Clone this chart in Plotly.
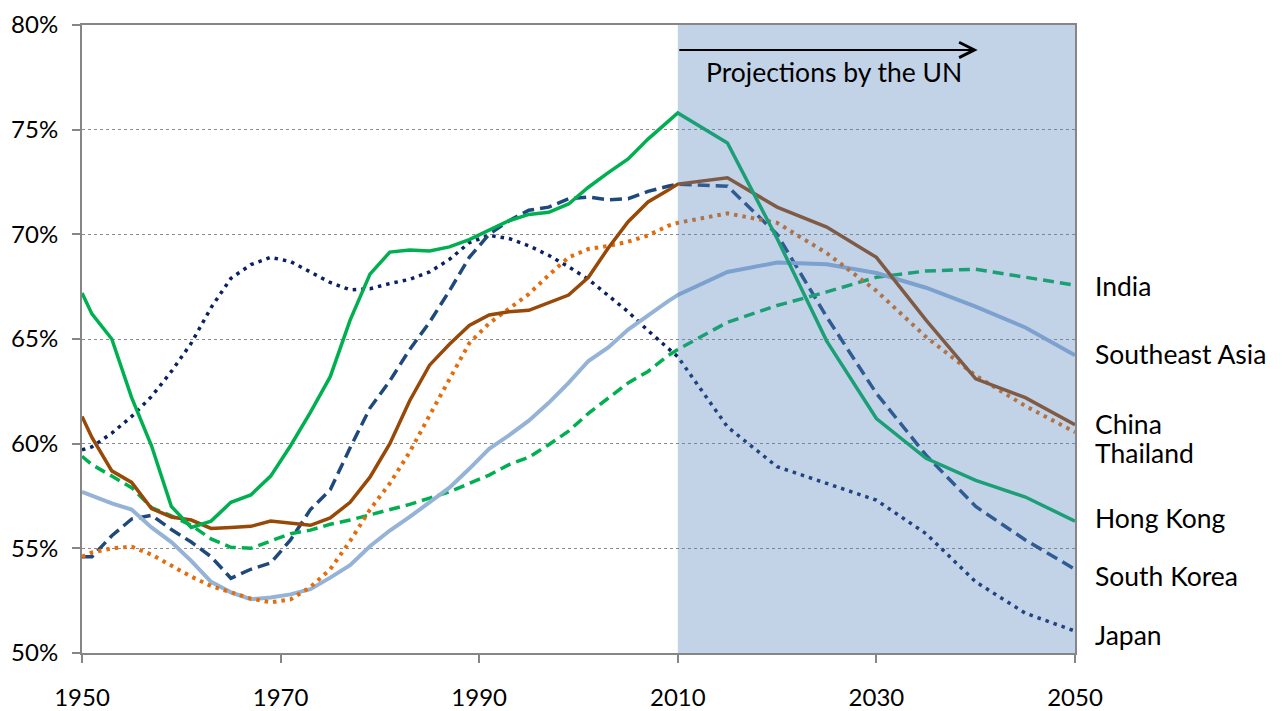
import plotly.graph_objects as go

# ---------------- data (percent of population aged 15-64) ----------------
YEARS = [1950, 1951, 1953, 1955, 1957, 1959, 1961, 1963, 1965, 1967,
         1969, 1971, 1973, 1975, 1977, 1979, 1981, 1983, 1985, 1987,
         1989, 1991, 1993, 1995, 1997, 1999, 2001, 2003, 2005, 2007,
         2009, 2010, 2015, 2020, 2025, 2030, 2035, 2040, 2045, 2050]

JAPAN = [59.7, 59.85, 60.5, 61.3, 62.25, 63.45, 64.8, 66.5, 67.9, 68.55,
         68.9, 68.7, 68.2, 67.7, 67.35, 67.4, 67.65, 67.85, 68.2, 68.8,
         69.6, 69.95, 69.8, 69.45, 69.0, 68.45, 67.85, 67.1, 66.3, 65.4,
         64.55, 64.15, 60.8, 58.9, 58.1, 57.3, 55.7, 53.4, 51.9, 51.05]

SOUTH_KOREA = [54.6, 54.6, 55.6, 56.4, 56.58, 55.9, 55.3, 54.6, 53.57, 54.0,
               54.3, 55.4, 56.85, 57.8, 59.8, 61.7, 63.0, 64.5, 65.8, 67.3,
               68.9, 70.0, 70.65, 71.15, 71.3, 71.7, 71.78, 71.65, 71.7, 72.05,
               72.3, 72.4, 72.3, 70.0, 66.05, 62.4, 59.45, 57.0, 55.4, 54.0]

HONG_KONG = [67.2, 66.2, 65.0, 62.2, 59.9, 57.0, 56.0, 56.3, 57.2, 57.55,
             58.45, 59.9, 61.5, 63.2, 65.9, 68.1, 69.15, 69.25, 69.2, 69.4,
             69.75, 70.2, 70.65, 70.95, 71.05, 71.45, 72.25, 72.95, 73.6, 74.55,
             75.4, 75.8, 74.36, 69.8, 64.9, 61.2, 59.3, 58.25, 57.45, 56.3]

CHINA = [61.3, 60.3, 58.7, 58.15, 56.9, 56.5, 56.35, 55.95, 56.0, 56.05,
         56.3, 56.2, 56.1, 56.45, 57.2, 58.4, 60.0, 62.05, 63.75, 64.75,
         65.65, 66.15, 66.3, 66.37, 66.75, 67.1, 67.95, 69.35, 70.6, 71.55,
         72.1, 72.4, 72.7, 71.3, 70.35, 68.9, 65.9, 63.1, 62.2, 60.9]

THAILAND = [54.6, 54.8, 55.0, 55.08, 54.7, 54.15, 53.65, 53.2, 52.9, 52.6,
            52.42, 52.56, 53.15, 54.0, 55.35, 56.85, 58.1, 59.6, 61.35, 63.1,
            64.8, 65.75, 66.45, 67.15, 68.05, 68.9, 69.3, 69.45, 69.65, 69.95,
            70.4, 70.55, 71.0, 70.55, 69.1, 67.3, 65.1, 63.25, 61.8, 60.55]

SOUTHEAST_ASIA = [57.7, 57.5, 57.15, 56.85, 56.0, 55.3, 54.4, 53.4, 52.9, 52.57,
                  52.65, 52.8, 53.05, 53.6, 54.2, 55.1, 55.85, 56.5, 57.2, 57.9,
                  58.8, 59.75, 60.4, 61.1, 61.95, 62.9, 63.95, 64.6, 65.45, 66.15,
                  66.8, 67.1, 68.2, 68.65, 68.57, 68.15, 67.45, 66.55, 65.55, 64.22]

INDIA = [59.4, 59.0, 58.45, 57.9, 56.95, 56.55, 56.1, 55.45, 55.05, 55.0,
         55.35, 55.7, 55.87, 56.15, 56.35, 56.6, 56.85, 57.1, 57.4, 57.7,
         58.1, 58.5, 59.0, 59.35, 59.95, 60.6, 61.45, 62.2, 62.9, 63.45,
         64.2, 64.5, 65.8, 66.6, 67.25, 67.95, 68.25, 68.33, 67.96, 67.57]

SERIES_NAMES = ["Japan", "South Korea", "India", "Southeast Asia",
                "Thailand", "China", "Hong Kong"]
SERIES_VALUES = [JAPAN, SOUTH_KOREA, INDIA, SOUTHEAST_ASIA,
                 THAILAND, CHINA, HONG_KONG]

X_TICKS = [1950, 1970, 1990, 2010, 2030, 2050]
Y_TICKS = [50, 55, 60, 65, 70, 75, 80]
Y_TICK_TEXT = ["50%", "55%", "60%", "65%", "70%", "75%", "80%"]
PROJ_START, PROJ_END = 2010, 2050
ARROW_END = 2040.2
ARROW_Y = 78.81
PROJ_TEXT = "Projections by the UN"

# ---------------- styles ----------------
STYLES = {
    "Japan":          dict(color="#0a2262", width=3.5, dash="3.5px,5px"),
    "South Korea":    dict(color="#1f497d", width=3.5, dash="12px,6px"),
    "India":          dict(color="#00b050", width=3.5, dash="11px,6px"),
    "Southeast Asia": dict(color="#95b3d7", width=4, dash="solid"),
    "Thailand":       dict(color="#e46c0a", width=4, dash="3.5px,5px"),
    "China":          dict(color="#984807", width=3.5, dash="solid"),
    "Hong Kong":      dict(color="#00b050", width=3.5, dash="solid"),
}
LABEL_SHIFT = {"India": -1, "Southeast Asia": 1, "China": 1, "Thailand": -21,
               "Hong Kong": 3, "South Korea": -7, "Japan": -4}

FONT = "Lato, 'Open Sans', sans-serif"

fig = go.Figure()
for name, vals in zip(SERIES_NAMES, SERIES_VALUES):
    fig.add_trace(go.Scatter(x=YEARS, y=vals, mode="lines", name=name,
                             line=STYLES[name], hoverinfo="skip",
                             showlegend=False))

# shaded projection area (translucent, drawn over lines like the original)
fig.add_shape(type="rect", xref="x", yref="y", x0=PROJ_START, x1=PROJ_END,
              y0=Y_TICKS[0], y1=Y_TICKS[-1], fillcolor="#4f81bd",
              opacity=0.35, line=dict(width=0), layer="above")

annotations = []
# arrow
annotations.append(dict(x=ARROW_END, y=ARROW_Y, ax=PROJ_START, ay=ARROW_Y,
                        xref="x", yref="y", axref="x", ayref="y", text="",
                        showarrow=True, arrowhead=5, arrowsize=1.5,
                        arrowwidth=2, arrowcolor="#000000"))
annotations.append(dict(x=(PROJ_START + ARROW_END) / 2 + 0.6, y=ARROW_Y,
                        xref="x", yref="y", text=PROJ_TEXT, showarrow=False,
                        xanchor="center", yanchor="top", yshift=-4,
                        font=dict(family=FONT, size=26.5, color="#000000")))
# end labels
for name, vals in zip(SERIES_NAMES, SERIES_VALUES):
    annotations.append(dict(x=YEARS[-1], y=vals[-1], xref="x", yref="y",
                            text=name, showarrow=False, xanchor="left",
                            yanchor="middle", xshift=18,
                            yshift=LABEL_SHIFT[name],
                            font=dict(family=FONT, size=26.5, color="#000000")))

fig.update_layout(
    width=1284, height=711,
    margin=dict(l=82, r=209, t=25, b=58, pad=0),
    plot_bgcolor="#ffffff", paper_bgcolor="#ffffff",
    font=dict(family=FONT, size=24, color="#000000"),
    annotations=annotations,
)
fig.update_xaxes(range=[YEARS[0], YEARS[-1]], tickvals=X_TICKS,
                 showgrid=False, showline=True, linecolor="#868686",
                 linewidth=2, mirror=True, ticks="outside", ticklen=8,
                 tickwidth=2, tickcolor="#868686", zeroline=False,
                 ticklabelstandoff=14, automargin=False,
                 tickfont=dict(family=FONT, size=24, color="#000000"))
fig.update_yaxes(range=[Y_TICKS[0], Y_TICKS[-1]], tickvals=Y_TICKS,
                 ticktext=Y_TICK_TEXT, tickmode="array",
                 showgrid=True, gridcolor="#8c8c8c",
                 griddash="dot", gridwidth=1, showline=True,
                 linecolor="#868686", linewidth=2, mirror=True,
                 ticks="outside", ticklen=8, tickwidth=2, tickcolor="#868686",
                 zeroline=False, ticklabelstandoff=9, automargin=False,
                 tickfont=dict(family=FONT, size=24, color="#000000"))

fig.write_html("out.html", config={"displayModeBar": False},
               post_script="document.body.style.margin='0';")
